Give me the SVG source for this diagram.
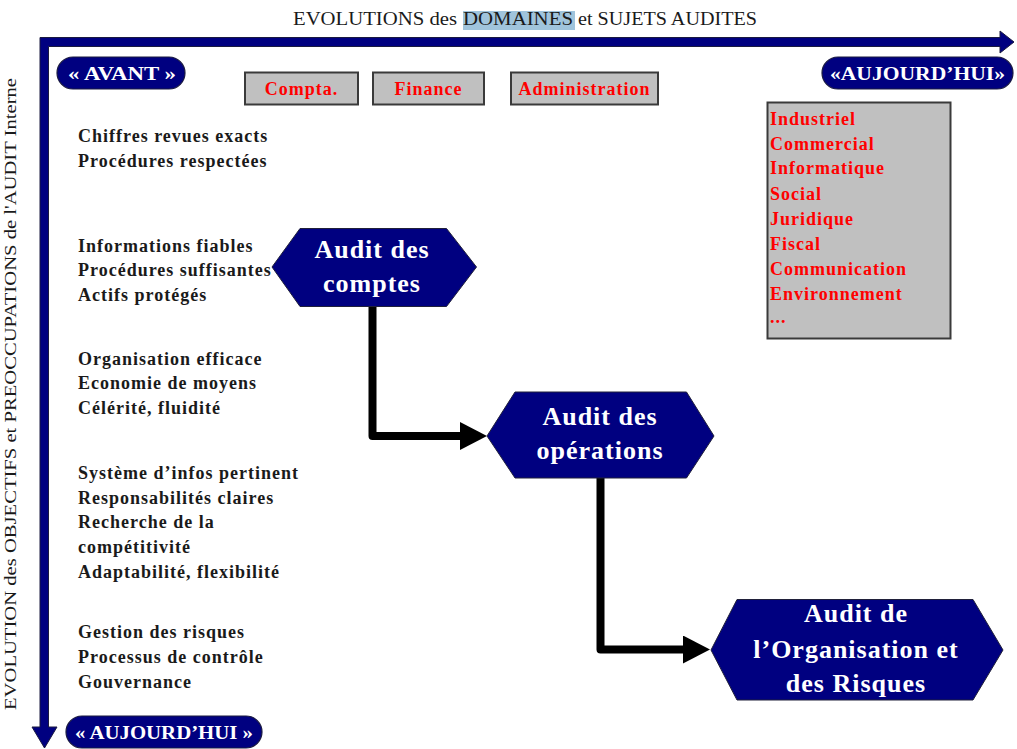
<svg xmlns="http://www.w3.org/2000/svg" width="1017" height="749" viewBox="0 0 1017 749">
  <style>
    .title { font-family: "Liberation Serif", serif; font-size: 18px; fill: #1a1a1a; }
    .axislabel { font-family: "Liberation Serif", serif; font-size: 17px; fill: #1a1a1a; }
    .item { font-family: "Liberation Serif", serif; font-size: 18px; font-weight: bold; letter-spacing: 1px; fill: #1a1a1a; }
    .domain { font-family: "Liberation Serif", serif; font-size: 18px; font-weight: bold; letter-spacing: 1px; fill: #ff0000; }
    .pill { fill: #000080; stroke: #1a1a40; stroke-width: 1.2; }
    .pilltext { font-family: "Liberation Serif", serif; font-size: 19px; font-weight: bold; fill: #ffffff; }
    .box { fill: #c0c0c0; stroke: #3a3a3a; stroke-width: 2; }
    .hex { fill: #000080; stroke: #20203a; stroke-width: 1; }
    .hextext { font-family: "Liberation Serif", serif; font-size: 26px; font-weight: bold; letter-spacing: 1px; fill: #ffffff; text-anchor: middle; }
    .axis { fill: #000080; stroke: #1a1a40; stroke-width: 1; }
    .link { fill: none; stroke: #000000; stroke-width: 8; stroke-linejoin: round; stroke-linecap: round; }
  </style>
  <defs>
    <marker id="head" markerUnits="userSpaceOnUse" markerWidth="27" markerHeight="28" viewBox="0 0 27 28" refX="0" refY="14" orient="auto">
      <path d="M0,0 L27,14 L0,28 Z" fill="#000000"/>
    </marker>
  </defs>

  <rect width="1017" height="749" fill="#ffffff"/>

  <!-- heading with highlighted word -->
  <g id="title">
    <rect x="463" y="11" width="112" height="19" fill="#a0c4dc"/>
    <text class="title" x="293" y="25" textLength="164" lengthAdjust="spacingAndGlyphs">EVOLUTIONS des</text>
    <text class="title" x="463" y="25" textLength="110" lengthAdjust="spacingAndGlyphs">DOMAINES</text>
    <text class="title" x="578" y="25" textLength="179" lengthAdjust="spacingAndGlyphs">et SUJETS AUDITES</text>
  </g>

  <!-- the two axes: horizontal (domains) and vertical (objectives) -->
  <g id="axes">
    <path class="axis" d="M40,37.5 H1000 V31 L1014,42 L1000,53 V46.5 H48.5 V727 H57 L44.5,748 L32,727 H40 Z"/>
    <text class="axislabel" transform="translate(16 394) rotate(-90)" x="0" y="0" text-anchor="middle" textLength="632" lengthAdjust="spacingAndGlyphs">EVOLUTION des OBJECTIFS et PREOCCUPATIONS de l'AUDIT Interne</text>
  </g>

  <!-- time markers -->
  <g id="avant">
    <rect class="pill" x="57" y="57" width="128" height="32" rx="16"/>
    <text class="pilltext" x="68" y="80" textLength="108" lengthAdjust="spacingAndGlyphs">« AVANT »</text>
  </g>
  <g id="aujourdhui-top">
    <rect class="pill" x="822" y="57" width="191" height="32" rx="16"/>
    <text class="pilltext" x="830" y="80" textLength="175" lengthAdjust="spacingAndGlyphs">«AUJOURD’HUI»</text>
  </g>
  <g id="aujourdhui-bottom">
    <rect class="pill" x="66" y="716" width="196" height="32" rx="16"/>
    <text class="pilltext" x="75" y="739" textLength="178" lengthAdjust="spacingAndGlyphs">« AUJOURD’HUI »</text>
  </g>

  <!-- early audit domains -->
  <g id="compta">
    <rect class="box" x="245" y="72.5" width="113" height="32"/>
    <text class="domain" x="301.5" y="95" text-anchor="middle">Compta.</text>
  </g>
  <g id="finance">
    <rect class="box" x="373" y="72.5" width="111" height="32"/>
    <text class="domain" x="428.5" y="95" text-anchor="middle">Finance</text>
  </g>
  <g id="administration">
    <rect class="box" x="511" y="72.5" width="147" height="32"/>
    <text class="domain" x="584.5" y="95" text-anchor="middle">Administration</text>
  </g>

  <!-- current audit domains -->
  <g id="domaines-actuels">
    <rect class="box" x="767.5" y="102.5" width="183" height="236"/>
    <text class="domain" x="770" y="125">Industriel</text>
    <text class="domain" x="770" y="150">Commercial</text>
    <text class="domain" x="770" y="174">Informatique</text>
    <text class="domain" x="770" y="200">Social</text>
    <text class="domain" x="770" y="225">Juridique</text>
    <text class="domain" x="770" y="250">Fiscal</text>
    <text class="domain" x="770" y="275">Communication</text>
    <text class="domain" x="770" y="300">Environnement</text>
    <text class="domain" x="770" y="323">...</text>
  </g>

  <!-- objectives, from oldest to newest -->
  <g id="objectifs-1">
    <text class="item" x="78" y="142">Chiffres revues exacts</text>
    <text class="item" x="78" y="167">Procédures respectées</text>
  </g>
  <g id="objectifs-2">
    <text class="item" x="78" y="252">Informations fiables</text>
    <text class="item" x="78" y="276">Procédures suffisantes</text>
    <text class="item" x="78" y="301">Actifs protégés</text>
  </g>
  <g id="objectifs-3">
    <text class="item" x="78" y="365">Organisation efficace</text>
    <text class="item" x="78" y="389">Economie de moyens</text>
    <text class="item" x="78" y="414">Célérité, fluidité</text>
  </g>
  <g id="objectifs-4">
    <text class="item" x="78" y="479">Système d’infos pertinent</text>
    <text class="item" x="78" y="504">Responsabilités claires</text>
    <text class="item" x="78" y="528">Recherche de la</text>
    <text class="item" x="78" y="553">compétitivité</text>
    <text class="item" x="78" y="578">Adaptabilité, flexibilité</text>
  </g>
  <g id="objectifs-5">
    <text class="item" x="78" y="638">Gestion des risques</text>
    <text class="item" x="78" y="663">Processus de contrôle</text>
    <text class="item" x="78" y="688">Gouvernance</text>
  </g>

  <!-- connectors between audit stages -->
  <g id="connectors">
    <path class="link" d="M372.5,307 V436 H460" marker-end="url(#head)"/>
    <path class="link" d="M600.5,478 V649.5 H683" marker-end="url(#head)"/>
  </g>

  <!-- audit stages -->
  <g id="audit-comptes">
    <polygon class="hex" points="272,267 300,228.5 446.5,228.5 476.5,267 446.5,306.5 300,306.5"/>
    <text class="hextext" x="372" y="258">Audit des</text>
    <text class="hextext" x="372" y="292">comptes</text>
  </g>
  <g id="audit-operations">
    <polygon class="hex" points="487,436 515,392 686.5,392 714,436 686.5,478 515,478"/>
    <text class="hextext" x="600" y="425">Audit des</text>
    <text class="hextext" x="600" y="459">opérations</text>
  </g>
  <g id="audit-organisation">
    <polygon class="hex" points="711,650 737,599.5 973,599.5 1003,650 973,700 737,700"/>
    <text class="hextext" x="856" y="622">Audit de</text>
    <text class="hextext" x="856" y="658">l’Organisation et</text>
    <text class="hextext" x="856" y="692">des Risques</text>
  </g>
</svg>
